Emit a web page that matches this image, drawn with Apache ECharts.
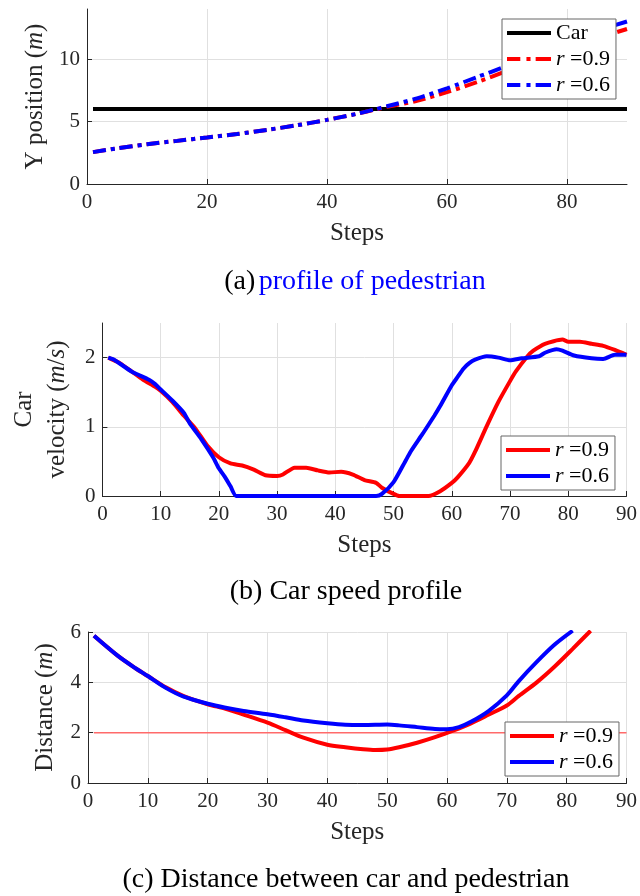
<!DOCTYPE html>
<html>
<head>
<meta charset="utf-8">
<script src="https://cdn.jsdelivr.net/npm/echarts@6/dist/echarts.min.js"></script>
<style>
html,body{margin:0;padding:0;background:#fff;}
#chart{width:640px;height:896px;}
</style>
</head>
<body>
<div id="chart"></div>
<script>
// ---------- (a) Y position of pedestrian ----------
const stepsA = [1, 5, 10, 15, 20, 25, 30, 35, 40, 45, 48, 50, 55, 60, 65, 70, 75, 80, 85, 90];
const pedR   = [2.55, 2.85, 3.18, 3.45, 3.72, 4.0, 4.33, 4.7, 5.13, 5.62, 5.95, 6.17, 6.65, 7.35, 8.15, 9.05, 9.95, 10.85, 11.65, 12.4];
const pedB   = [2.55, 2.85, 3.18, 3.45, 3.72, 4.0, 4.33, 4.7, 5.13, 5.62, 5.97, 6.22, 6.85, 7.65, 8.55, 9.45, 10.4, 11.35, 12.25, 13.0];
const carSteps = [1, 90];
const carY     = [6, 6];

// ---------- (b) Car speed profile ----------
const stepsBR = [1, 3, 5, 7, 9, 10, 12, 14, 16, 18, 20, 22, 24, 26, 28, 30, 31, 33, 35, 37, 39, 41, 43, 45, 47, 48, 50, 51, 56, 58, 60, 61, 63, 64, 66, 68, 70, 71, 73, 74, 76, 79, 80, 82, 84, 86, 88, 90];
const velR    = [2.0, 1.92, 1.80, 1.68, 1.58, 1.52, 1.36, 1.16, 0.97, 0.73, 0.56, 0.47, 0.44, 0.38, 0.30, 0.29, 0.31, 0.41, 0.41, 0.37, 0.34, 0.35, 0.31, 0.23, 0.19, 0.12, 0.03, 0.0, 0.0, 0.07, 0.19, 0.27, 0.48, 0.64, 1.01, 1.36, 1.66, 1.80, 2.02, 2.10, 2.20, 2.26, 2.23, 2.23, 2.20, 2.17, 2.11, 2.04];
const stepsBB = [1, 2, 5, 8, 9, 10, 12, 14, 15, 17, 19, 20, 21, 22, 23, 47, 48, 50, 52, 53, 55, 57, 58, 60, 61, 62, 63, 64, 66, 68, 70, 72, 75, 76, 78, 79, 81, 84, 86, 88, 90];
const velB    = [2.0, 1.97, 1.80, 1.68, 1.62, 1.54, 1.38, 1.20, 1.05, 0.82, 0.56, 0.40, 0.28, 0.14, 0.0, 0.0, 0.03, 0.20, 0.50, 0.65, 0.90, 1.16, 1.30, 1.60, 1.72, 1.84, 1.92, 1.97, 2.02, 2.0, 1.96, 1.99, 2.02, 2.07, 2.12, 2.10, 2.03, 1.99, 1.98, 2.04, 2.04];

// ---------- (c) Distance between car and pedestrian ----------
const stepsCR = [1, 5, 8, 10, 13, 16, 20, 23, 26, 30, 33, 36, 40, 43, 46, 48, 50, 52, 55, 58, 61, 64, 67, 70, 72, 75, 78, 81, 84];
const distR   = [5.85, 5.05, 4.55, 4.25, 3.80, 3.45, 3.13, 2.95, 2.72, 2.40, 2.10, 1.80, 1.52, 1.42, 1.34, 1.31, 1.33, 1.42, 1.60, 1.82, 2.08, 2.37, 2.72, 3.08, 3.46, 4.0, 4.63, 5.33, 6.05];
const stepsCB = [1, 5, 8, 10, 13, 16, 20, 23, 26, 30, 33, 36, 40, 43, 46, 50, 52, 55, 58, 60, 62, 64, 67, 70, 72, 75, 78, 81];
const distB   = [5.85, 5.05, 4.55, 4.25, 3.78, 3.43, 3.15, 2.99, 2.86, 2.73, 2.61, 2.48, 2.37, 2.31, 2.30, 2.32, 2.29, 2.22, 2.15, 2.14, 2.22, 2.43, 2.87, 3.48, 4.05, 4.81, 5.5, 6.05];
const limitSteps = [1, 90];
const limitY     = [2, 2];

const zip = (xs, ys) => xs.map((x, i) => [x, ys[i]]);

const SERIF = '"Liberation Serif", "Times New Roman", serif';
const AX = '#262626';
const GRID = '#e0e0e0';
const RED = '#ff0000', BLUE = '#0000ff';
const DASH = [13, 5, 4, 5];
const DASH_ICON = 'path://M0,0h13v4h-13z M19,0h4v4h-4z M28,0h15v4h-15z';
const SOLID_ICON = 'path://M0,0h44v4h-44z';

const legendNames = {
  carA: 'Car',
  a09: '{i|r} =0.9', a06: '{i|r} =0.6',
  b09: '{i|r} =0.9', b06: '{i|r} =0.6',
  c09: '{i|r} =0.9', c06: '{i|r} =0.6'
};
const richI = { i: { fontStyle: 'italic', fontFamily: SERIF, fontSize: 22, color: '#000' } };

function xAxis(gridIndex, interval, showMax) {
  return {
    type: 'value', gridIndex, min: 0, max: 90, interval,
    name: 'Steps', nameLocation: 'middle', nameGap: 37,
    nameTextStyle: { fontFamily: SERIF, fontSize: 25, color: AX },
    axisLine: { show: true, onZero: false, lineStyle: { color: AX, width: 1 } },
    axisTick: { show: true, inside: true, length: 5, lineStyle: { color: AX } },
    axisLabel: { fontFamily: SERIF, fontSize: 21, color: AX, margin: 8, showMaxLabel: showMax },
    splitLine: { show: true, showMaxLine: showMax, lineStyle: { color: GRID, width: 1 } }
  };
}
function yAxis(gridIndex, max, interval, name, nameGap, showMax, extra) {
  return Object.assign({
    type: 'value', gridIndex, min: 0, max, interval,
    name, nameLocation: 'middle', nameGap,
    nameTextStyle: { fontFamily: SERIF, fontSize: 25, color: AX,
      rich: { i: { fontStyle: 'italic', fontFamily: SERIF, fontSize: 25, color: AX } } },
    axisLine: { show: true, lineStyle: { color: AX, width: 1 } },
    axisTick: { show: true, inside: true, length: 5, lineStyle: { color: AX } },
    axisLabel: { fontFamily: SERIF, fontSize: 21, color: AX, margin: 7, showMaxLabel: showMax },
    splitLine: { show: true, showMaxLine: showMax, lineStyle: { color: GRID, width: 1 } }
  }, extra || {});
}
function legend(left, top, data) {
  return {
    left, top, orient: 'vertical', data, selectedMode: false, z: 20,
    formatter: n => legendNames[n],
    textStyle: { fontFamily: SERIF, fontSize: 22, color: '#000', rich: richI },
    itemWidth: 44, itemHeight: 4, itemGap: 4, symbolKeepAspect: false,
    padding: [3, 6, 3, 5],
    backgroundColor: '#fff', borderColor: '#666', borderWidth: 1, borderRadius: 0
  };
}
function line(name, xi, yi, data, color, opts) {
  return Object.assign({
    name, type: 'line', xAxisIndex: xi, yAxisIndex: yi, data,
    symbol: 'none', showSymbol: false, clip: true, animation: false,
    smooth: 0.25, z: 2,
    lineStyle: { color, width: 4 },
    itemStyle: { color }
  }, opts || {});
}

const chart = echarts.init(document.getElementById('chart'), null, { renderer: 'canvas' });
chart.setOption({
  backgroundColor: '#fff',
  animation: false,
  grid: [
    { left: 87, top: 9, width: 540, height: 175 },
    { left: 89, top: 323, width: 539, height: 173 },
    { left: 88, top: 632, width: 540, height: 151 }
  ],
  xAxis: [ xAxis(0, 20, false), xAxis(1, 10, true), xAxis(2, 10, true) ],
  yAxis: [
    yAxis(0, 14, 5, 'Y position ({i|m})', 36, false),
    yAxis(1, 2.5, 1, 'Car\nvelocity ({i|m}/{i|s})', 26, false, {
      nameTextStyle: { fontFamily: SERIF, fontSize: 25, color: AX, lineHeight: 33, align: 'center',
        rich: { i: { fontStyle: 'italic', fontFamily: SERIF, fontSize: 25, color: AX, lineHeight: 33 } } }
    }),
    yAxis(2, 6, 2, 'Distance ({i|m})', 30, true)
  ],
  legend: [
    legend(502, 19, [
      { name: 'carA', icon: SOLID_ICON },
      { name: 'a09', icon: DASH_ICON },
      { name: 'a06', icon: DASH_ICON }
    ]),
    legend(501, 436, [{ name: 'b09', icon: SOLID_ICON }, { name: 'b06', icon: SOLID_ICON }]),
    legend(505, 722, [{ name: 'c09', icon: SOLID_ICON }, { name: 'c06', icon: SOLID_ICON }])
  ],
  series: [
    line('carA', 0, 0, zip(carSteps, carY), '#000', { smooth: false }),
    line('a09', 0, 0, zip(stepsA, pedR), RED, { lineStyle: { color: RED, width: 4, type: DASH, cap: 'butt' } }),
    line('a06', 0, 0, zip(stepsA, pedB), BLUE, { lineStyle: { color: BLUE, width: 4, type: DASH, cap: 'butt' } }),
    line('b09', 1, 1, zip(stepsBR, velR), RED, { smooth: 0.2 }),
    line('b06', 1, 1, zip(stepsBB, velB), BLUE, { smooth: 0.2 }),
    line('limit', 2, 2, zip(limitSteps, limitY), '#ff6a6a', { smooth: false, lineStyle: { color: '#ff6a6a', width: 1.5 } }),
    line('c09', 2, 2, zip(stepsCR, distR), RED, { smooth: 0.3 }),
    line('c06', 2, 2, zip(stepsCB, distB), BLUE, { smooth: 0.3 })
  ],
  graphic: [
    { type: 'text', x: 355, y: 282, style: { text: '{k|(a)} {b|profile of pedestrian}', textAlign: 'center', textVerticalAlign: 'middle',
      rich: { k: { fontFamily: SERIF, fontSize: 28, fill: '#000' }, b: { fontFamily: SERIF, fontSize: 28, fill: '#0000ff' } } } },
    { type: 'text', x: 346, y: 592, style: { text: '(b) Car speed profile', textAlign: 'center', textVerticalAlign: 'middle',
      fontFamily: SERIF, fontSize: 28, fill: '#000' } },
    { type: 'text', x: 346, y: 880, style: { text: '(c) Distance between car and pedestrian', textAlign: 'center', textVerticalAlign: 'middle',
      fontFamily: SERIF, fontSize: 28, fill: '#000' } }
  ]
});
</script>
</body>
</html>
